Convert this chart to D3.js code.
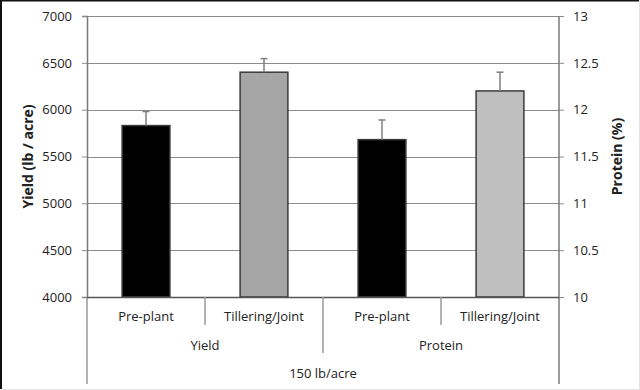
<!DOCTYPE html>
<html>
<head>
<meta charset="utf-8">
<script src="https://cdn.jsdelivr.net/npm/d3@7"></script>
<style>
  html, body { margin: 0; padding: 0; background: #fff; }
  svg { display: block; }
  text { font-family: "Open Sans", "Liberation Sans", sans-serif; fill: #222; }
</style>
</head>
<body>
<svg id="chart" width="640" height="390"></svg>
<script>
// ---- data ----
const timings = ["Pre-plant", "Tillering/Joint"];
const groups = ["Yield", "Protein"];
const topGroup = "150 lb/acre";
const yieldValues = [5830, 6400];
const yieldErrors = [150, 145];
const proteinValues = [11.68, 12.2];
const proteinErrors = [0.21, 0.2];
const yieldTicks = [4000, 4500, 5000, 5500, 6000, 6500, 7000];
const proteinTicks = [10, 10.5, 11, 11.5, 12, 12.5, 13];
const yieldColors = ["#000000", "#a6a6a6"];
const proteinColors = ["#000000", "#bfbfbf"];

(function () {
const svg = d3.select("#chart");
const W = 640, H = 390;
const pL = 87, pR = 559, pT = 16, pB = 297;

// frame
svg.append("rect").attr("x", 0).attr("y", 0).attr("width", W).attr("height", H).attr("fill", "#fff");
svg.append("line").attr("x1", 1).attr("x2", 1).attr("y1", 0).attr("y2", H).attr("stroke", "#111").attr("stroke-width", 2);
svg.append("line").attr("x1", 0).attr("x2", W).attr("y1", 0.5).attr("y2", 0.5).attr("stroke", "#111").attr("stroke-width", 2);
svg.append("line").attr("x1", 0).attr("x2", W).attr("y1", H - 0.5).attr("y2", H - 0.5).attr("stroke", "#e4e4e4");
svg.append("line").attr("x1", W - 0.5).attr("x2", W - 0.5).attr("y1", 0).attr("y2", H).attr("stroke", "#e4e4e4");

// build bar table
const bars = [];
groups.forEach((g, gi) => {
  timings.forEach((t, ti) => {
    bars.push({
      key: g + "|" + t, group: g, timing: t,
      value: gi === 0 ? yieldValues[ti] : proteinValues[ti],
      err: gi === 0 ? yieldErrors[ti] : proteinErrors[ti],
      color: gi === 0 ? yieldColors[ti] : proteinColors[ti],
      axis: gi === 0 ? "left" : "right"
    });
  });
});

const x = d3.scaleBand().domain(bars.map(d => d.key)).range([pL, pR]).padding(0);
const yL = d3.scaleLinear().domain([4000, 7000]).range([pB, pT]);
const yR = d3.scaleLinear().domain([10, 13]).range([pB, pT]);
const yOf = d => d.axis === "left" ? yL : yR;
const bw = x.bandwidth() * 0.405;

// gridlines
svg.append("g").selectAll("line").data(yieldTicks.slice(1)).join("line")
  .attr("x1", pL).attr("x2", pR)
  .attr("y1", d => Math.round(yL(d)) + 0.5).attr("y2", d => Math.round(yL(d)) + 0.5)
  .attr("stroke", "#8c8c8c").attr("stroke-width", 1.2);

// left axis
const axL = svg.append("g").attr("transform", `translate(${pL},0)`)
  .call(d3.axisLeft(yL).tickValues(yieldTicks).tickSize(5).tickPadding(10).tickFormat(d3.format("d")));
axL.select(".domain").attr("stroke", "#7a7a7a").attr("stroke-width", 1.5);
axL.selectAll(".tick line").attr("stroke", "#8c8c8c");
axL.selectAll(".tick text").attr("font-size", 13).attr("fill", "#222")
  .style("font-family", '"Open Sans", sans-serif');

// right axis
const axR = svg.append("g").attr("transform", `translate(${pR},0)`)
  .call(d3.axisRight(yR).tickValues(proteinTicks).tickSize(5).tickPadding(9).tickFormat(d => String(d)));
axR.select(".domain").remove();
axR.selectAll(".tick line").attr("stroke", "#8c8c8c");
axR.selectAll(".tick text").attr("font-size", 13).attr("fill", "#222")
  .style("font-family", '"Open Sans", sans-serif');
svg.append("line").attr("x1", pR).attr("x2", pR).attr("y1", pT).attr("y2", 384)
  .attr("stroke", "#7a7a7a").attr("stroke-width", 1.5);
svg.append("line").attr("x1", pL).attr("x2", pL).attr("y1", pB).attr("y2", 384)
  .attr("stroke", "#9a9a9a").attr("stroke-width", 1.5);

// bars
svg.append("g").selectAll("rect").data(bars).join("rect")
  .attr("x", d => x(d.key) + (x.bandwidth() - bw) / 2)
  .attr("y", d => yOf(d)(d.value))
  .attr("width", bw)
  .attr("height", d => pB - yOf(d)(d.value))
  .attr("fill", d => d.color)
  .attr("stroke", "#3a3a3a").attr("stroke-width", 1.5);

// error bars
const eb = svg.append("g").selectAll("g").data(bars).join("g");
eb.append("line")
  .attr("x1", d => x(d.key) + x.bandwidth() / 2).attr("x2", d => x(d.key) + x.bandwidth() / 2)
  .attr("y1", d => yOf(d)(d.value)).attr("y2", d => yOf(d)(d.value + d.err))
  .attr("stroke", "#7f7f7f").attr("stroke-width", 1.5);
eb.append("line")
  .attr("x1", d => x(d.key) + x.bandwidth() / 2 - 3.5).attr("x2", d => x(d.key) + x.bandwidth() / 2 + 3.5)
  .attr("y1", d => yOf(d)(d.value + d.err)).attr("y2", d => yOf(d)(d.value + d.err))
  .attr("stroke", "#7f7f7f").attr("stroke-width", 1.5);

// bottom axis line
svg.append("line").attr("x1", pL).attr("x2", pR).attr("y1", pB + 0.5).attr("y2", pB + 0.5)
  .attr("stroke", "#555").attr("stroke-width", 1.5);

// multi-level category axis
bars.forEach((d, i) => {
  if (i === 0) return;
  const xx = x(d.key);
  const len = d.timing === timings[0] ? 353 : 325;
  svg.append("line").attr("x1", xx).attr("x2", xx).attr("y1", pB).attr("y2", len)
    .attr("stroke", "#9a9a9a").attr("stroke-width", 1.5);
});
svg.append("g").selectAll("text").data(bars).join("text")
  .attr("x", d => x(d.key) + x.bandwidth() / 2).attr("y", 321)
  .attr("text-anchor", "middle").attr("font-size", 13).text(d => d.timing);
svg.append("g").selectAll("text").data(groups).join("text")
  .attr("x", g => {
    const ks = bars.filter(b => b.group === g);
    return (x(ks[0].key) + x(ks[ks.length - 1].key) + x.bandwidth()) / 2;
  })
  .attr("y", 350).attr("text-anchor", "middle").attr("font-size", 13).text(g => g);
svg.append("text").attr("x", (pL + pR) / 2).attr("y", 378)
  .attr("text-anchor", "middle").attr("font-size", 13).text(topGroup);

// axis titles
svg.append("text").attr("transform", `translate(33,${(pT + pB) / 2}) rotate(-90)`)
  .attr("text-anchor", "middle").attr("font-size", 14).attr("font-weight", "bold")
  .text("Yield (lb / acre)");
svg.append("text").attr("transform", `translate(622,${(pT + pB) / 2}) rotate(-90)`)
  .attr("text-anchor", "middle").attr("font-size", 14).attr("font-weight", "bold")
  .text("Protein (%)");
})();
</script>
</body>
</html>
